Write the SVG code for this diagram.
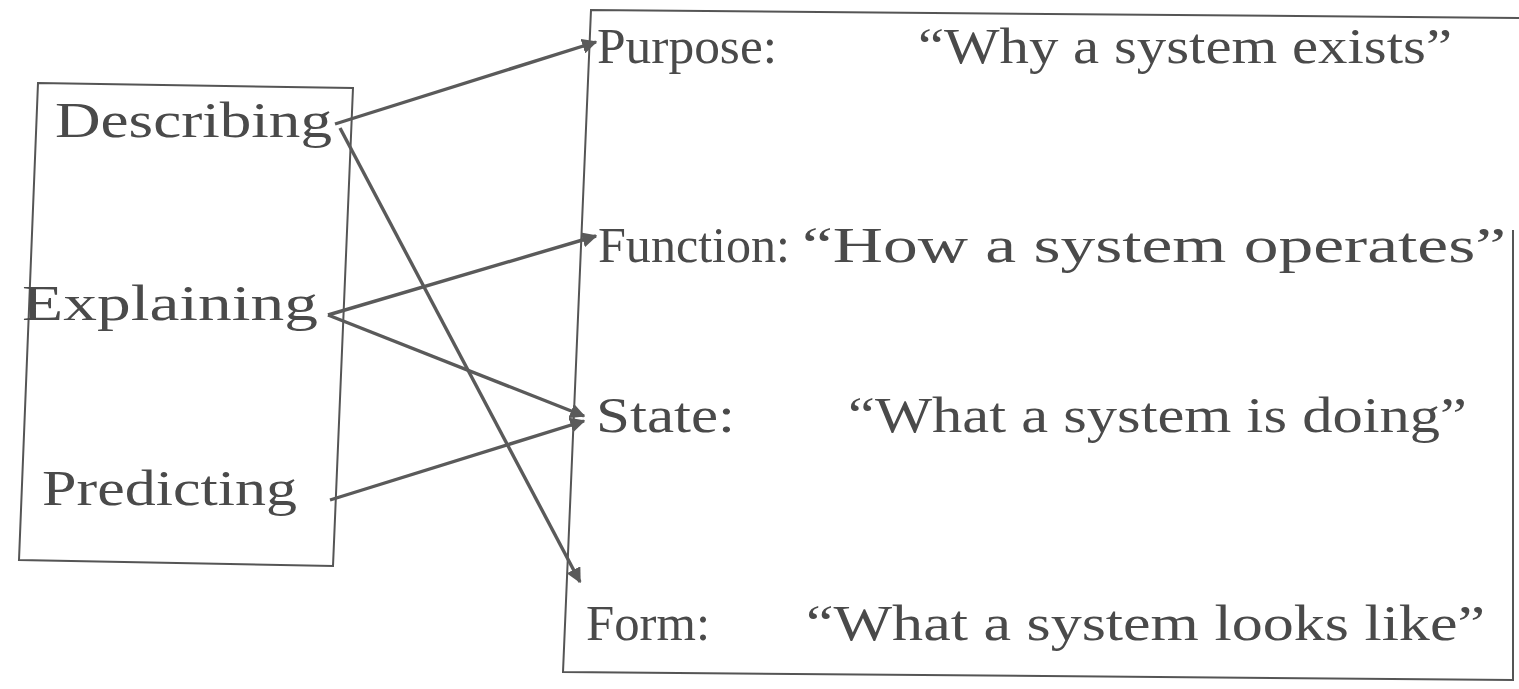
<svg xmlns="http://www.w3.org/2000/svg" width="1519" height="689" viewBox="0 0 1519 689">
<defs>
<style>
.t{font-family:"Liberation Serif","Times New Roman",serif;font-size:50px;fill:#4a4a4a}
.box{fill:none;stroke:#555;stroke-width:2}
.c{fill:none;stroke:#5a5a5a;stroke-width:3.4;marker-end:url(#ah)}
</style>
<marker id="ah" viewBox="0 0 10 10" refX="9" refY="5" markerWidth="4.5" markerHeight="4.5" markerUnits="strokeWidth" orient="auto">
<path d="M0,0 L10,5 L0,10 z" fill="#5a5a5a"/>
</marker>
</defs>
<rect width="1519" height="689" fill="#fff"/>
<g id="left-box">
<polygon class="box" points="38,83 353,88 333,566 19,560"/>
</g>
<g id="right-box">
<polyline class="box" points="1519,18 591,10 563,672 1513,680 1513,230"/>
</g>
<g id="describing"><text class="t" x="55" y="137" textLength="277" lengthAdjust="spacingAndGlyphs">Describing</text></g>
<g id="explaining"><text class="t" x="22" y="320" textLength="296" lengthAdjust="spacingAndGlyphs">Explaining</text></g>
<g id="predicting"><text class="t" x="42" y="505" textLength="255" lengthAdjust="spacingAndGlyphs">Predicting</text></g>
<g id="purpose">
<text class="t" x="597" y="63" textLength="180" lengthAdjust="spacingAndGlyphs">Purpose:</text>
<text class="t" x="918" y="63" textLength="534" lengthAdjust="spacingAndGlyphs">“Why a system exists”</text>
</g>
<g id="function">
<text class="t" x="598" y="262" textLength="192" lengthAdjust="spacingAndGlyphs">Function:</text>
<text class="t" x="802" y="262" textLength="704" lengthAdjust="spacingAndGlyphs">“How a system operates”</text>
</g>
<g id="state">
<text class="t" x="596" y="432" textLength="139" lengthAdjust="spacingAndGlyphs">State:</text>
<text class="t" x="848" y="432" textLength="619" lengthAdjust="spacingAndGlyphs">“What a system is doing”</text>
</g>
<g id="form">
<text class="t" x="586" y="640" textLength="124" lengthAdjust="spacingAndGlyphs">Form:</text>
<text class="t" x="806" y="640" textLength="679" lengthAdjust="spacingAndGlyphs">“What a system looks like”</text>
</g>
<g id="connectors">
<line class="c" x1="335" y1="124" x2="596" y2="42"/>
<line class="c" x1="340" y1="128" x2="580" y2="582"/>
<line class="c" x1="328" y1="315" x2="596" y2="236"/>
<line class="c" x1="328" y1="315" x2="584" y2="416"/>
<line class="c" x1="330" y1="500" x2="584" y2="421"/>
</g>
</svg>
